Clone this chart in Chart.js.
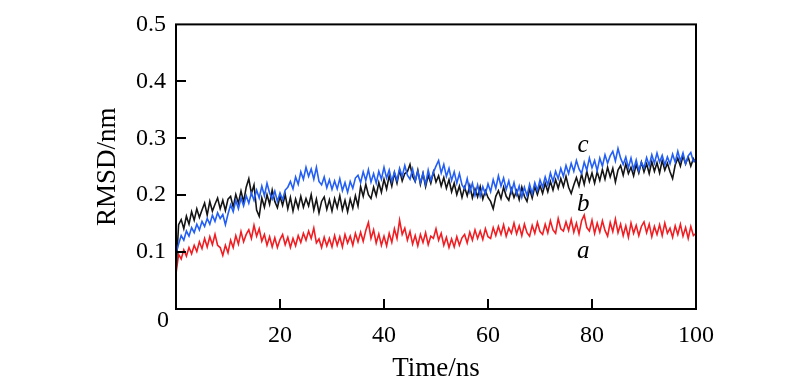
<!DOCTYPE html>
<html>
<head>
<meta charset="utf-8">
<script src="https://cdn.jsdelivr.net/npm/chart.js"></script>
<style>
	body { margin: 0; background: #fff; }
</style>
</head>
<body>
	<canvas id="chart" width="800" height="385"></canvas>
	<script>
		// sampling step of the trajectories (ns)
		const timeStep = 0.5;

		// RMSD (nm), one value every 0.5 ns from 0 to 100 ns
		const rmsdA = [
			0.062, 0.096, 0.088, 0.104, 0.093, 0.108, 0.097, 0.112, 0.101, 0.118, 0.106,
			0.124, 0.109, 0.127, 0.113, 0.131, 0.112, 0.108, 0.094, 0.112, 0.099,
			0.121, 0.108, 0.129, 0.114, 0.136, 0.118, 0.131, 0.139, 0.124, 0.147,
			0.128, 0.141, 0.119, 0.131, 0.112, 0.127, 0.109, 0.125, 0.108, 0.122,
			0.131, 0.113, 0.126, 0.108, 0.124, 0.111, 0.129, 0.117, 0.133, 0.121,
			0.137, 0.124, 0.142, 0.116, 0.123, 0.108, 0.126, 0.111, 0.124, 0.109,
			0.129, 0.112, 0.127, 0.109, 0.131, 0.116, 0.128, 0.112, 0.133, 0.118,
			0.135, 0.119, 0.138, 0.152, 0.124, 0.139, 0.116, 0.132, 0.112, 0.128,
			0.111, 0.133, 0.117, 0.141, 0.124, 0.156, 0.131, 0.142, 0.121, 0.136,
			0.114, 0.129, 0.111, 0.131, 0.117, 0.134, 0.113, 0.128, 0.124, 0.141,
			0.121, 0.133, 0.112, 0.126, 0.108, 0.123, 0.109, 0.127, 0.112, 0.125,
			0.131, 0.116, 0.135, 0.121, 0.139, 0.124, 0.137, 0.122, 0.141, 0.127,
			0.124, 0.143, 0.129, 0.145, 0.131, 0.148, 0.128, 0.142, 0.133, 0.151,
			0.132, 0.146, 0.129, 0.149, 0.134, 0.128, 0.147, 0.133, 0.152, 0.136,
			0.131, 0.149, 0.134, 0.155, 0.139, 0.133, 0.159, 0.141, 0.137, 0.153,
			0.138, 0.157, 0.135, 0.151, 0.132, 0.155, 0.165, 0.143, 0.137, 0.156,
			0.133, 0.151, 0.135, 0.155, 0.138, 0.128, 0.152, 0.136, 0.158, 0.134,
			0.149, 0.129, 0.146, 0.126, 0.151, 0.133, 0.147, 0.129, 0.145, 0.153,
			0.134, 0.149, 0.127, 0.145, 0.131, 0.148, 0.129, 0.151, 0.133, 0.142,
			0.126, 0.146, 0.131, 0.149, 0.128, 0.143, 0.124, 0.145, 0.129, 0.133
		];
		const rmsdB = [
			0.065, 0.148, 0.157, 0.141, 0.163, 0.149, 0.171, 0.156, 0.176, 0.161, 0.174,
			0.186, 0.165, 0.189, 0.172, 0.184, 0.195, 0.176, 0.191, 0.173, 0.193,
			0.198, 0.179, 0.201, 0.186, 0.207, 0.188, 0.214, 0.229, 0.203, 0.218,
			0.174, 0.163, 0.195, 0.179, 0.201, 0.184, 0.209, 0.189, 0.178, 0.198,
			0.182, 0.201, 0.176, 0.196, 0.172, 0.193, 0.177, 0.198, 0.179, 0.194,
			0.181, 0.201, 0.174, 0.193, 0.169, 0.189, 0.197, 0.175, 0.192, 0.172,
			0.194, 0.178, 0.199, 0.174, 0.191, 0.171, 0.193, 0.177, 0.199, 0.181,
			0.215, 0.198, 0.219, 0.201, 0.194, 0.214, 0.199, 0.222, 0.205, 0.228,
			0.211, 0.234, 0.216, 0.239, 0.221, 0.244, 0.225, 0.238, 0.241, 0.254,
			0.233, 0.224, 0.244, 0.219, 0.238, 0.215, 0.235, 0.221, 0.241, 0.223,
			0.234, 0.216, 0.231, 0.212, 0.227, 0.206, 0.221, 0.201, 0.216, 0.196,
			0.214, 0.199, 0.217, 0.195, 0.211, 0.197, 0.215, 0.193, 0.208, 0.196,
			0.189, 0.176, 0.198, 0.208, 0.194, 0.214, 0.198, 0.191, 0.211, 0.196,
			0.208, 0.192, 0.214, 0.198, 0.189, 0.211, 0.195, 0.215, 0.201, 0.217,
			0.203, 0.221, 0.206, 0.224, 0.209, 0.227, 0.212, 0.229, 0.215, 0.233,
			0.214, 0.203, 0.218, 0.231, 0.216, 0.237, 0.219, 0.242, 0.224, 0.239,
			0.221, 0.241, 0.226, 0.245, 0.228, 0.249, 0.232, 0.247, 0.223, 0.244,
			0.252, 0.235, 0.255, 0.238, 0.249, 0.234, 0.254, 0.239, 0.258, 0.241,
			0.255, 0.238, 0.259, 0.242, 0.257, 0.239, 0.261, 0.244, 0.256, 0.241,
			0.229, 0.253, 0.265, 0.251, 0.269, 0.255, 0.267, 0.251, 0.264, 0.256
		];
		const rmsdC = [
			0.098, 0.114, 0.129, 0.121, 0.137, 0.128, 0.143, 0.134, 0.149, 0.139, 0.154,
			0.145, 0.159, 0.149, 0.165, 0.154, 0.169, 0.159, 0.166, 0.148, 0.167,
			0.183, 0.171, 0.191, 0.176, 0.195, 0.181, 0.199, 0.186, 0.204, 0.191,
			0.209, 0.195, 0.216, 0.199, 0.221, 0.204, 0.193, 0.207, 0.189, 0.204,
			0.192, 0.209, 0.214, 0.224, 0.211, 0.232, 0.219, 0.241, 0.228, 0.249,
			0.233, 0.246, 0.228, 0.249, 0.224, 0.218, 0.232, 0.213, 0.227, 0.210,
			0.225, 0.211, 0.229, 0.208, 0.222, 0.205, 0.224, 0.212, 0.230, 0.235,
			0.222, 0.241, 0.226, 0.245, 0.223, 0.238, 0.221, 0.242, 0.228, 0.249,
			0.230, 0.244, 0.224, 0.241, 0.226, 0.247, 0.233, 0.252, 0.235, 0.228,
			0.246, 0.225, 0.242, 0.222, 0.239, 0.219, 0.244, 0.226, 0.240, 0.251,
			0.261, 0.239, 0.254, 0.233, 0.247, 0.226, 0.241, 0.221, 0.238, 0.218,
			0.211, 0.229, 0.206, 0.221, 0.200, 0.218, 0.198, 0.215, 0.202, 0.220,
			0.206, 0.227, 0.212, 0.234, 0.216, 0.230, 0.210, 0.225, 0.205, 0.222,
			0.201, 0.216, 0.196, 0.214, 0.199, 0.219, 0.202, 0.222, 0.208, 0.227,
			0.214, 0.232, 0.218, 0.239, 0.224, 0.242, 0.229, 0.247, 0.233, 0.252,
			0.238, 0.256, 0.242, 0.261, 0.246, 0.238, 0.258, 0.244, 0.265, 0.248,
			0.261, 0.243, 0.265, 0.251, 0.271, 0.256, 0.269, 0.277, 0.260, 0.282,
			0.265, 0.254, 0.267, 0.248, 0.265, 0.245, 0.262, 0.243, 0.258, 0.248,
			0.266, 0.252, 0.271, 0.256, 0.274, 0.258, 0.270, 0.253, 0.267, 0.255,
			0.272, 0.258, 0.277, 0.260, 0.274, 0.255, 0.269, 0.275, 0.259, 0.262
		];

		// ticks
		const xTicks = [0, 20, 40, 60, 80, 100];
		const yTicks = [0, 0.1, 0.2, 0.3, 0.4, 0.5];

		// curve names and where they sit (data coordinates)
		const curveLabels = [
			{ text: 'c', x: 78.3, y: 0.287 },
			{ text: 'b', x: 78.3, y: 0.184 },
			{ text: 'a', x: 78.3, y: 0.101 }
		];

		const serif = '"Liberation Serif", "Times New Roman", serif';

		function toPoints(values) {
			return values.map((v, i) => ({ x: i * timeStep, y: v }));
		}

		// frame, inward ticks, corner zero and curve names
		const frame = {
			id: 'frame',
			afterDatasetsDraw(chart) {
				const { ctx, chartArea: a, scales: { x, y } } = chart;
				ctx.save();
				ctx.strokeStyle = '#000';
				ctx.lineWidth = 2;
				ctx.strokeRect(a.left, a.top, a.right - a.left, a.bottom - a.top);
				ctx.beginPath();
				xTicks.slice(1, -1).forEach(v => {
					const px = Math.round(x.getPixelForValue(v));
					ctx.moveTo(px, a.bottom);
					ctx.lineTo(px, a.bottom - 10);
				});
				yTicks.slice(1, -1).forEach(v => {
					const py = Math.round(y.getPixelForValue(v));
					ctx.moveTo(a.left, py);
					ctx.lineTo(a.left + 10, py);
				});
				ctx.stroke();

				ctx.fillStyle = '#000';
				ctx.textAlign = 'center';
				ctx.textBaseline = 'middle';
				ctx.font = '24px ' + serif;
				ctx.fillText('0', a.left - 13, a.bottom + 12);

				ctx.font = 'italic 25px ' + serif;
				curveLabels.forEach(l => {
					ctx.fillText(l.text, x.getPixelForValue(l.x), y.getPixelForValue(l.y));
				});
				ctx.restore();
			}
		};

		new Chart(document.getElementById('chart'), {
			type: 'line',
			data: {
				datasets: [
					{ label: 'c', data: toPoints(rmsdC), borderColor: 'rgb(35, 95, 245)', borderWidth: 1.6 },
					{ label: 'b', data: toPoints(rmsdB), borderColor: 'rgb(20, 20, 20)', borderWidth: 1.6 },
					{ label: 'a', data: toPoints(rmsdA), borderColor: 'rgb(240, 30, 35)', borderWidth: 1.6 }
				]
			},
			options: {
				responsive: false,
				animation: false,
				elements: { point: { radius: 0 }, line: { tension: 0 } },
				layout: { padding: { top: 14, right: 104, left: 0, bottom: 0 } },
				plugins: { legend: { display: false }, tooltip: { enabled: false } },
				scales: {
					x: {
						type: 'linear',
						min: 0,
						max: 100,
						grid: { display: false, drawTicks: false },
						border: { display: false },
						afterBuildTicks: s => { s.ticks = xTicks.map(v => ({ value: v })); },
						afterFit: s => { s.height = 76; },
						ticks: {
							color: '#000',
							padding: 12,
							maxRotation: 0,
							font: { family: serif, size: 24 },
							callback: v => v === 0 ? '' : String(v)
						},
						title: {
							display: true,
							text: 'Time/ns',
							color: '#000',
							padding: { top: 0, bottom: 0 },
							font: { family: serif, size: 27 }
						}
					},
					y: {
						min: 0,
						max: 0.5,
						grid: { display: false, drawTicks: false },
						border: { display: false },
						afterBuildTicks: s => { s.ticks = yTicks.map(v => ({ value: v })); },
						afterFit: s => { s.width = 176; },
						ticks: {
							color: '#000',
							padding: 10,
							font: { family: serif, size: 24 },
							callback: v => v === 0 ? '' : v.toFixed(1)
						},
						title: {
							display: true,
							text: 'RMSD/nm',
							color: '#000',
							padding: { top: 92, bottom: 0 },
							font: { family: serif, size: 27 }
						}
					}
				}
			},
			plugins: [frame]
		});
	</script>
</body>
</html>
